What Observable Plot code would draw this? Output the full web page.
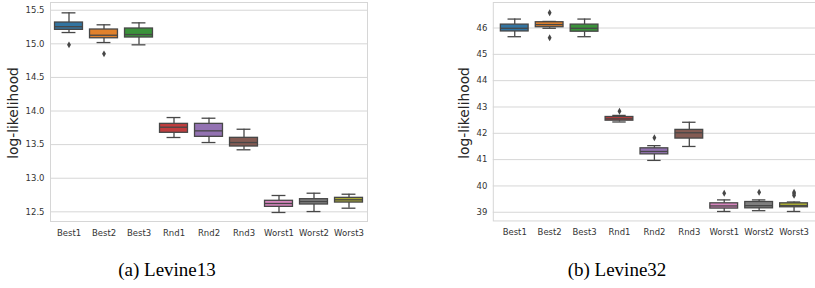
<!DOCTYPE html>
<html><head><meta charset="utf-8">
<script src="https://cdn.jsdelivr.net/npm/d3@7"></script>
<script src="https://cdn.jsdelivr.net/npm/@observablehq/plot@0.6"></script>
<style>
body{margin:0;background:#fff;width:815px;height:288px;overflow:hidden;position:relative;font-family:"DejaVu Sans",sans-serif}
.panel{position:absolute;top:0}
.ylab{position:absolute;font-family:"DejaVu Sans";font-size:13.8px;color:#262626;white-space:nowrap;transform:translate(-50%,-50%) rotate(-90deg);line-height:1}
.cap{position:absolute;width:200px;text-align:center;font-family:"Liberation Serif",serif;font-size:19px;line-height:20px;color:#000}
</style></head>
<body>
<div id="pa" class="panel" style="left:0"></div>
<div id="pb" class="panel" style="left:410px"></div>
<div class="ylab" style="left:14px;top:113px">log-likelihood</div>
<div class="ylab" style="left:465px;top:113px">log-likelihood</div>
<div class="cap" style="left:67px;top:260px">(a) Levine13</div>
<div class="cap" style="left:517px;top:260px">(b) Levine32</div>
<script>
const categories = ["Best1","Best2","Best3","Rnd1","Rnd2","Rnd3","Worst1","Worst2","Worst3"];
const colors = ["#3274a1","#e1812c","#3a923a","#c03d3e","#9372b2","#845b53","#d684bd","#7f7f7f","#a9aa35"];

// Levine13
const l13Low  = [15.168, 15.019, 14.985, 13.606, 13.531, 13.423, 12.490, 12.504, 12.554];
const l13Q1   = [15.208, 15.083, 15.094, 13.676, 13.616, 13.472, 12.574, 12.609, 12.638];
const l13Med  = [15.255, 15.128, 15.138, 13.759, 13.705, 13.531, 12.624, 12.653, 12.679];
const l13Q3   = [15.317, 15.213, 15.228, 13.809, 13.809, 13.601, 12.664, 12.688, 12.708];
const l13High = [15.461, 15.283, 15.312, 13.903, 13.893, 13.729, 12.743, 12.777, 12.762];
const l13OutCat = ["Best1","Best2"];
const l13OutVal = [14.985, 14.851];
const l13Ticks = [12.5, 13.0, 13.5, 14.0, 14.5, 15.0, 15.5];

// Levine32
const l32Low  = [45.67, 45.99, 45.67, 42.43, 40.97, 41.50, 39.03, 39.06, 39.03];
const l32Q1   = [45.87, 46.03, 45.86, 42.48, 41.20, 41.80, 39.14, 39.15, 39.19];
const l32Med  = [45.99, 46.13, 45.99, 42.55, 41.31, 42.02, 39.24, 39.25, 39.25];
const l32Q3   = [46.13, 46.22, 46.13, 42.62, 41.43, 42.13, 39.34, 39.39, 39.34];
const l32High = [46.34, 46.25, 46.34, 42.68, 41.53, 42.42, 39.47, 39.47, 39.39];
const l32OutCat = ["Best2","Best2","Rnd1","Rnd2","Worst1","Worst2","Worst3","Worst3","Worst3"];
const l32OutVal = [46.58, 45.63, 42.84, 41.83, 39.72, 39.76, 39.76, 39.70, 39.64];
const l32Ticks = [39, 40, 41, 42, 43, 44, 45, 46];

const thinDiamond = {
  draw(ctx, size) {
    const r = Math.sqrt(size / Math.PI);
    const h = r * 1.5, w = r * 0.85;
    ctx.moveTo(0, -h); ctx.lineTo(w, 0); ctx.lineTo(0, h); ctx.lineTo(-w, 0); ctx.closePath();
  }
};

function panel(o) {
  const rows = categories.map((c, i) => ({c, color: colors[i], low: o.low[i], q1: o.q1[i], med: o.med[i], q3: o.q3[i], high: o.high[i]}));
  const outs = o.outCat.map((c, i) => ({c, v: o.outVal[i]}));
  const step = (o.width - o.marginLeft - o.marginRight) / categories.length;
  const boxInset = step * 0.1;
  const capInset = step * 0.3;
  const edge = "#474747";
  return Plot.plot({
    width: o.width, height: 245,
    marginLeft: o.marginLeft, marginRight: o.marginRight, marginTop: 2, marginBottom: 24,
    style: {fontFamily: "DejaVu Sans", fontSize: "8.5px", color: "#333", background: "transparent"},
    x: {type: "band", domain: categories, padding: 0, label: null, tickSize: 0, tickPadding: 8},
    y: {domain: o.domain, ticks: o.ticks, tickFormat: o.fmt, label: null, tickSize: 0, tickPadding: 6},
    color: {type: "identity"},
    marks: [
      Plot.ruleY(o.ticks, {stroke: "#d6d6d6", strokeWidth: 1}),
      Plot.frame({stroke: "#d6d6d6", strokeWidth: 1}),
      Plot.ruleX(rows, {x: "c", y1: "low", y2: "q1", stroke: edge, strokeWidth: 1.3}),
      Plot.ruleX(rows, {x: "c", y1: "q3", y2: "high", stroke: edge, strokeWidth: 1.3}),
      Plot.tickY(rows, {x: "c", y: "low", insetLeft: capInset, insetRight: capInset, stroke: edge, strokeWidth: 1.3}),
      Plot.tickY(rows, {x: "c", y: "high", insetLeft: capInset, insetRight: capInset, stroke: edge, strokeWidth: 1.3}),
      Plot.barY(rows, {x: "c", y1: "q1", y2: "q3", fill: "color", stroke: edge, strokeWidth: 1.3, insetLeft: boxInset, insetRight: boxInset}),
      Plot.tickY(rows, {x: "c", y: "med", insetLeft: boxInset, insetRight: boxInset, stroke: edge, strokeWidth: 1.3}),
      Plot.dot(outs, {x: "c", y: "v", symbol: thinDiamond, r: 2.3, fill: edge, stroke: null})
    ]
  });
}

document.getElementById("pa").append(panel({
  width: 410, marginLeft: 50, marginRight: 43, domain: [12.356, 15.615], ticks: l13Ticks, fmt: d3.format(".1f"),
  low: l13Low, q1: l13Q1, med: l13Med, q3: l13Q3, high: l13High, outCat: l13OutCat, outVal: l13OutVal
}));
document.getElementById("pb").append(panel({
  width: 406, marginLeft: 83, marginRight: 0, domain: [38.67, 46.97], ticks: l32Ticks, fmt: d3.format("d"),
  low: l32Low, q1: l32Q1, med: l32Med, q3: l32Q3, high: l32High, outCat: l32OutCat, outVal: l32OutVal
}));
</script>
</body></html>
